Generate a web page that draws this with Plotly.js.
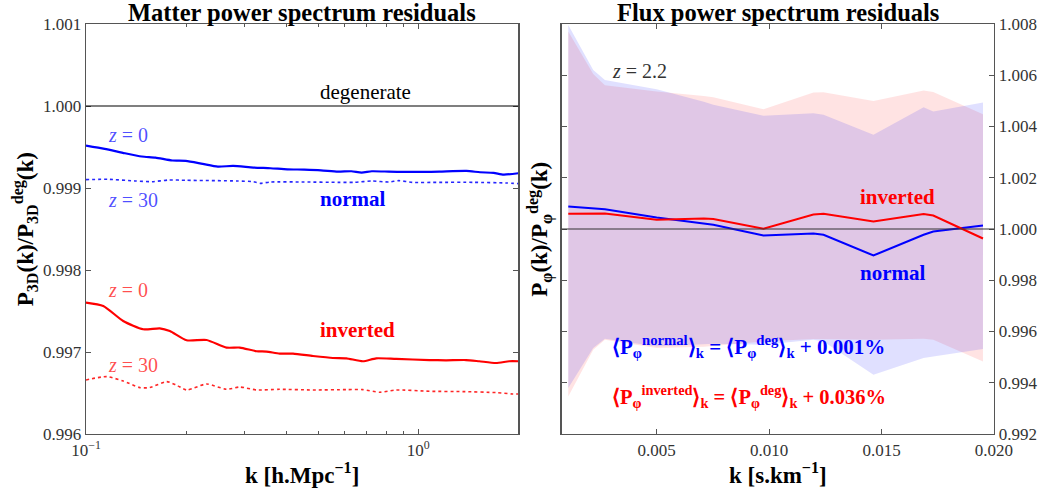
<!DOCTYPE html>
<html><head><meta charset="utf-8">
<script src="https://cdn.plot.ly/plotly-3.0.1.min.js"></script>
<style>html,body{margin:0;padding:0;background:#fff}#chart{width:1043px;height:490px}</style>
</head><body><div id="chart"></div>
<script>
// ---------- Left panel: matter power spectrum residuals ----------
const kNormalZ0 = [0.1, 0.1138, 0.1309, 0.1472, 0.1618, 0.1820, 0.1997, 0.2245, 0.2494, 0.2772, 0.3192, 0.3590, 0.4036, 0.4539, 0.5097, 0.5731, 0.6292, 0.6755, 0.7251, 0.8150, 0.9162, 1.030, 1.158, 1.397, 1.535, 1.686, 1.808, 2.0];
const rNormalZ0 = [0.999518, 0.999478, 0.999424, 0.999384, 0.999371, 0.999335, 0.999331, 0.999294, 0.999261, 0.999269, 0.999249, 0.999241, 0.999228, 0.999224, 0.999216, 0.999200, 0.999204, 0.999188, 0.999204, 0.999200, 0.999196, 0.999196, 0.999200, 0.999208, 0.999192, 0.999184, 0.999163, 0.999180];

const kNormalZ30 = [0.1, 0.1165, 0.1405, 0.1580, 0.1776, 0.1997, 0.2836, 0.3192, 0.3343, 0.3590, 0.4539, 0.5731, 0.6442, 0.7251, 0.8150, 0.8745, 0.9594, 1.158, 1.466, 1.850, 2.0];
const rNormalZ30 = [0.999102, 0.999106, 0.999086, 0.999077, 0.999098, 0.999094, 0.999086, 0.999077, 0.999057, 0.999073, 0.999073, 0.999069, 0.999069, 0.999086, 0.999073, 0.999090, 0.999069, 0.999069, 0.999069, 0.999061, 0.999053];

const kInvertedZ0 = [0.1, 0.1127, 0.1294, 0.1486, 0.1667, 0.1788, 0.2008, 0.2306, 0.2648, 0.2904, 0.3261, 0.3494, 0.3829, 0.4198, 0.4820, 0.5535, 0.6076, 0.6815, 0.7473, 0.8586, 1.081, 1.213, 1.393, 1.527, 1.714, 1.879, 2.0];
const rInvertedZ0 = [0.997602, 0.997561, 0.997378, 0.997277, 0.997289, 0.997256, 0.997143, 0.997146, 0.997054, 0.997054, 0.997009, 0.997005, 0.996980, 0.996980, 0.996951, 0.996927, 0.996923, 0.996887, 0.996923, 0.996915, 0.996902, 0.996899, 0.996902, 0.996887, 0.996866, 0.996887, 0.996887];

const kInvertedZ30 = [0.1, 0.1153, 0.1294, 0.1452, 0.1556, 0.1749, 0.1874, 0.2008, 0.2306, 0.2648, 0.2904, 0.3261, 0.3829, 0.4820, 0.6076, 0.6815, 0.7656, 0.8586, 1.081, 1.362, 1.714, 1.923, 2.0];
const rInvertedZ30 = [0.996659, 0.996700, 0.996646, 0.996566, 0.996566, 0.996639, 0.996594, 0.996537, 0.996610, 0.996545, 0.996573, 0.996537, 0.996545, 0.996537, 0.996541, 0.996541, 0.996509, 0.996537, 0.996521, 0.996517, 0.996505, 0.996488, 0.996488];

// ---------- Right panel: flux power spectrum residuals (z = 2.2) ----------
const kFlux = [0.00107, 0.00218, 0.0027, 0.005, 0.0071, 0.00752, 0.00975, 0.01197, 0.01242, 0.01464, 0.01687, 0.0173, 0.01951];
const fluxNormal   = [1.000877, 1.000810, 1.000770, 1.000449, 1.000215, 1.000164, 0.999747, 0.999825, 0.999774, 0.998966, 0.999774, 0.999903, 1.000137];
const fluxInverted = [1.000593, 1.000620, 1.000605, 1.000359, 1.000410, 1.000386, 1.000008, 1.000566, 1.000593, 1.000293, 1.000581, 1.000527, 0.999629];
const normalUpper   = [1.007964, 1.006209, 1.005819, 1.005456, 1.004961, 1.004844, 1.004415, 1.004520, 1.004454, 1.003674, 1.004754, 1.004583, 1.004934];
const normalLower   = [0.993795, 0.995355, 0.995718, 0.995417, 0.995503, 0.995523, 0.995484, 0.995679, 0.995612, 0.994314, 0.994965, 0.995027, 0.995316];
const invertedUpper = [1.007703, 1.006053, 1.005612, 1.005363, 1.005195, 1.005144, 1.004676, 1.005324, 1.005339, 1.005000, 1.005402, 1.005351, 1.004481];
const invertedLower = [0.993467, 0.995289, 0.995679, 0.995355, 0.995406, 0.995445, 0.995612, 0.995706, 0.995679, 0.995679, 0.995718, 0.995679, 0.994832];

const degenerateRef = 1.0;

// Tick labels
const leftXTickVals = [0.1, 1];
const leftXTickText = ['10<sup>\u22121</sup>', '10<sup>0</sup>'];
const leftXMinorVals = [0.2, 0.3, 0.4, 0.5, 0.6, 0.7, 0.8, 0.9, 2];
const rightXTickVals = [0.005, 0.010, 0.015, 0.020];

const BLUE = '#0000ff', RED = '#ff0000';
const SERIF = 'Liberation Serif';

const reverse = a => a.slice().reverse();

const traces = [
  {x: kNormalZ0, y: rNormalZ0, xaxis: 'x', yaxis: 'y', mode: 'lines', line: {color: BLUE, width: 2.2, shape: 'spline', smoothing: 0.6}},
  {x: kNormalZ30, y: rNormalZ30, xaxis: 'x', yaxis: 'y', mode: 'lines', line: {color: BLUE, width: 1.6, dash: 'dot', shape: 'spline', smoothing: 0.6}, opacity: 0.85},
  {x: kInvertedZ0, y: rInvertedZ0, xaxis: 'x', yaxis: 'y', mode: 'lines', line: {color: RED, width: 2.2, shape: 'spline', smoothing: 0.6}},
  {x: kInvertedZ30, y: rInvertedZ30, xaxis: 'x', yaxis: 'y', mode: 'lines', line: {color: RED, width: 1.6, dash: 'dot', shape: 'spline', smoothing: 0.6}, opacity: 0.85},
  // bands
  {x: kFlux.concat(reverse(kFlux)), y: invertedUpper.concat(reverse(invertedLower)), xaxis: 'x2', yaxis: 'y2', mode: 'lines', fill: 'toself', fillcolor: 'rgba(255,0,0,0.11)', line: {width: 0}, hoverinfo: 'skip'},
  {x: kFlux.concat(reverse(kFlux)), y: normalUpper.concat(reverse(normalLower)), xaxis: 'x2', yaxis: 'y2', mode: 'lines', fill: 'toself', fillcolor: 'rgba(0,0,255,0.12)', line: {width: 0}, hoverinfo: 'skip'},
  {x: kFlux, y: fluxNormal, xaxis: 'x2', yaxis: 'y2', mode: 'lines', line: {color: BLUE, width: 2}},
  {x: kFlux, y: fluxInverted, xaxis: 'x2', yaxis: 'y2', mode: 'lines', line: {color: RED, width: 2}}
];

const axisCommon = {
  showline: true, mirror: 'ticks', linecolor: '#555', linewidth: 1.3,
  ticks: 'inside', ticklen: 5, tickwidth: 1, tickcolor: '#555',
  showgrid: false, zeroline: false,
  tickfont: {family: SERIF, size: 17, color: '#333'}
};

const ann = (xref, yref, x, y, text, opts) => Object.assign({xref, yref, x, y, text, showarrow: false, xanchor: 'left', yanchor: 'middle'}, opts || {});
const f = (size, color) => ({family: SERIF, size, color});

const layout = {
  width: 1043, height: 490,
  margin: {l: 86, r: 48.7, t: 24, b: 55.7},
  paper_bgcolor: '#fff', plot_bgcolor: '#fff',
  showlegend: false,
  font: {family: SERIF, color: '#000'},
  xaxis: Object.assign({}, axisCommon, {
    type: 'log', domain: [0, 0.476], range: [-1, Math.log10(2)], anchor: 'y',
    tickvals: leftXTickVals, ticktext: leftXTickText,
    minor: {tickvals: leftXMinorVals, ticks: 'inside', ticklen: 3, tickcolor: '#555'}
  }),
  yaxis: Object.assign({}, axisCommon, {
    domain: [0, 1], range: [0.996, 1.001], dtick: 0.001, tickformat: '.3f', anchor: 'x'
  }),
  xaxis2: Object.assign({}, axisCommon, {
    domain: [0.5237, 1], range: [0.00077, 0.020], anchor: 'y2',
    tickvals: rightXTickVals, tickformat: '.3f'
  }),
  yaxis2: Object.assign({}, axisCommon, {
    domain: [0, 1], range: [0.992, 1.008], dtick: 0.002, tickformat: '.3f', anchor: 'x2', side: 'right'
  }),
  shapes: [
    {type: 'line', xref: 'x domain', yref: 'y', x0: 0, x1: 1, y0: degenerateRef, y1: degenerateRef, line: {color: '#000', width: 1.2}},
    {type: 'line', xref: 'x2 domain', yref: 'y2', x0: 0, x1: 1, y0: degenerateRef, y1: degenerateRef, line: {color: '#333', width: 1.2}}
  ],
  annotations: [
    // panel titles
    ann('x domain', 'paper', 0.5, 1.027, '<b>Matter power spectrum residuals</b>', {xanchor: 'center', font: f(24.5, '#000')}),
    ann('x2 domain', 'paper', 0.5, 1.027, '<b>Flux power spectrum residuals</b>', {xanchor: 'center', font: f(24.5, '#000')}),
    // axis titles
    ann('x domain', 'paper', 0.5, -0.096, '<b>k [h.Mpc<sup>\u22121</sup>]</b>', {xanchor: 'center', font: f(23, '#000')}),
    ann('x2 domain', 'paper', 0.5, -0.096, '<b>k [s.km<sup>\u22121</sup>]</b>', {xanchor: 'center', font: f(23, '#000')}),
    ann('paper', 'paper', -0.068, 0.5, '<b>P<sub>3D</sub>(k)/P<sub>3D</sub><sup>deg</sup>(k)</b>', {xanchor: 'center', textangle: -90, font: f(23, '#000')}),
    ann('paper', 'paper', 0.4997, 0.5, '<b>P<sub>\u03c6</sub>(k)/P<sub>\u03c6</sub><sup>deg</sup>(k)</b>', {xanchor: 'center', textangle: -90, font: f(23, '#000')}),
    // left panel labels
    ann('x domain', 'y domain', 0.536, 0.834, 'degenerate', {font: f(21, '#000')}),
    ann('x domain', 'y domain', 0.046, 0.7295, '<i>z</i> = 0', {font: f(20, 'rgba(0,0,255,0.7)')}),
    ann('x domain', 'y domain', 0.046, 0.571, '<i>z</i> = 30', {font: f(20, 'rgba(0,0,255,0.7)')}),
    ann('x domain', 'y domain', 0.536, 0.5735, '<b>normal</b>', {font: f(21, BLUE)}),
    ann('x domain', 'y domain', 0.046, 0.3517, '<i>z</i> = 0', {font: f(20, 'rgba(255,0,0,0.7)')}),
    ann('x domain', 'y domain', 0.536, 0.254, '<b>inverted</b>', {font: f(21, RED)}),
    ann('x domain', 'y domain', 0.046, 0.169, '<i>z</i> = 30', {font: f(20, 'rgba(255,0,0,0.7)')}),
    // right panel labels
    ann('x2 domain', 'y2 domain', 0.1117, 0.8855, '<i>z</i> = 2.2', {font: f(20, '#333')}),
    ann('x2 domain', 'y2 domain', 0.685, 0.5784, '<b>inverted</b>', {font: f(21, RED)}),
    ann('x2 domain', 'y2 domain', 0.685, 0.393, '<b>normal</b>', {font: f(21, BLUE)}),
    ann('x2 domain', 'y2 domain', 0.1117, 0.213, '<b>\u27e8P<sub>\u03c6</sub><sup>normal</sup>\u27e9<sub>k</sub> = \u27e8P<sub>\u03c6</sub><sup>deg</sup>\u27e9<sub>k</sub> + 0.001%</b>', {font: f(21, BLUE)}),
    ann('x2 domain', 'y2 domain', 0.1117, 0.0909, '<b>\u27e8P<sub>\u03c6</sub><sup>inverted</sup>\u27e9<sub>k</sub> = \u27e8P<sub>\u03c6</sub><sup>deg</sup>\u27e9<sub>k</sub> + 0.036%</b>', {font: f(20.5, RED)})
  ]
};

Plotly.newPlot('chart', traces, layout, {staticPlot: true, displayModeBar: false});
</script></body></html>
